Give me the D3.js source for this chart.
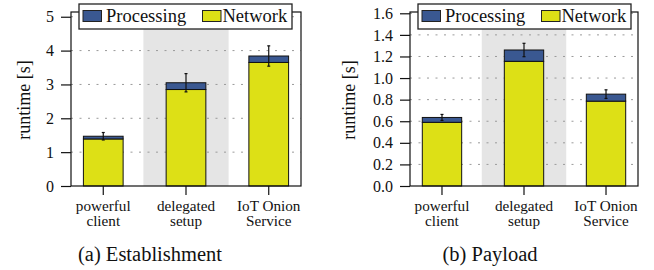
<!DOCTYPE html>
<html>
<head>
<meta charset="utf-8">
<script src="https://cdn.jsdelivr.net/npm/d3@7"></script>
<style>
  body { margin: 0; background: #fff; }
</style>
</head>
<body>
<svg id="chart" width="654" height="270"></svg>
<script>
'use strict';

// ─── Data ────────────────────────────────────────────────────────
const categories = [['powerful', 'client'], ['delegated', 'setup'], ['IoT Onion', 'Service']];
const seriesNames = ['Processing', 'Network'];

const estNetwork = [1.39, 2.85, 3.65];
const estProcessing = [0.08, 0.20, 0.19];
const estError = [0.11, 0.27, 0.30];
const estTicks = [0, 1, 2, 3, 4, 5];

const payNetwork = [0.59, 1.155, 0.786];
const payProcessing = [0.045, 0.105, 0.065];
const payError = [0.028, 0.062, 0.04];
const payTicks = [0, 0.2, 0.4, 0.6, 0.8, 1.0, 1.2, 1.4, 1.6];

const COLORS = { Processing: '#3a5891', Network: '#dde016' };
const SHADE = '#e5e5e5';
const FONT = "'Liberation Serif'";

const svg = d3.select('#chart');

// ─── One panel ───────────────────────────────────────────────────

function drawPanel(o) {
    const top = 12, bottom = 186;
    const keys = categories.map(c => c.join(' '));

    const x = d3.scalePoint()
        .domain(keys)
        .range([o.left, o.right])
        .padding(0.39);
    const step = x.step();
    const barW = step * 0.48;

    const y = d3.scaleLinear()
        .domain([0, o.yMax])
        .range([bottom, top]);

    const g = svg.append('g');

    // shaded middle column
    g.append('rect')
        .attr('x', x(keys[1]) - step * 1.03 / 2)
        .attr('y', top)
        .attr('width', step * 1.03)
        .attr('height', bottom - top)
        .attr('fill', SHADE);

    // dotted grid
    g.selectAll('line.grid')
        .data(o.ticks.filter(t => t > 0))
        .enter().append('line')
        .attr('class', 'grid')
        .attr('x1', o.left).attr('x2', o.right)
        .attr('y1', d => y(d)).attr('y2', d => y(d))
        .attr('stroke', '#9a9a9a')
        .attr('stroke-width', 1)
        .attr('stroke-dasharray', '2,6.5');

    // stacked bars
    const rows = keys.map((k, i) => ({
        k, net: o.network[i], proc: o.processing[i], err: o.error[i]
    }));

    g.selectAll('rect.net')
        .data(rows)
        .enter().append('rect')
        .attr('class', 'net')
        .attr('x', d => x(d.k) - barW / 2)
        .attr('y', d => y(d.net))
        .attr('width', barW)
        .attr('height', d => y(0) - y(d.net))
        .attr('fill', COLORS.Network)
        .attr('stroke', '#111').attr('stroke-width', 1);

    g.selectAll('rect.proc')
        .data(rows)
        .enter().append('rect')
        .attr('class', 'proc')
        .attr('x', d => x(d.k) - barW / 2)
        .attr('y', d => y(d.net + d.proc))
        .attr('width', barW)
        .attr('height', d => y(d.net) - y(d.net + d.proc))
        .attr('fill', COLORS.Processing)
        .attr('stroke', '#111').attr('stroke-width', 1);

    // error bars
    const eb = g.selectAll('g.err')
        .data(rows)
        .enter().append('g')
        .attr('class', 'err')
        .attr('stroke', '#111')
        .attr('stroke-width', 1.2);
    eb.append('line')
        .attr('x1', d => x(d.k)).attr('x2', d => x(d.k))
        .attr('y1', d => y(d.net + d.proc - d.err))
        .attr('y2', d => y(d.net + d.proc + d.err));
    eb.append('line')
        .attr('x1', d => x(d.k) - 1.5).attr('x2', d => x(d.k) + 1.5)
        .attr('y1', d => y(d.net + d.proc + d.err))
        .attr('y2', d => y(d.net + d.proc + d.err));
    eb.append('line')
        .attr('x1', d => x(d.k) - 1.5).attr('x2', d => x(d.k) + 1.5)
        .attr('y1', d => y(d.net + d.proc - d.err))
        .attr('y2', d => y(d.net + d.proc - d.err));

    // frame
    g.append('rect')
        .attr('x', o.left).attr('y', top)
        .attr('width', o.right - o.left).attr('height', bottom - top)
        .attr('fill', 'none')
        .attr('stroke', '#111').attr('stroke-width', 1.2);

    // y axis
    const yAxis = g.append('g')
        .attr('transform', `translate(${o.left},0)`)
        .call(d3.axisLeft(y).tickValues(o.ticks).tickFormat(d3.format(o.fmt))
            .tickSize(10).tickPadding(7));
    yAxis.attr('font-family', FONT);
    yAxis.select('.domain').remove();
    yAxis.selectAll('line').attr('stroke', '#111').attr('stroke-width', 1.2);
    yAxis.selectAll('text')
        .attr('font-family', FONT)
        .attr('font-size', '16px')
        .attr('fill', '#111');

    // x axis ticks
    g.selectAll('line.xtick')
        .data(keys)
        .enter().append('line')
        .attr('class', 'xtick')
        .attr('x1', d => x(d)).attr('x2', d => x(d))
        .attr('y1', bottom).attr('y2', bottom + 9)
        .attr('stroke', '#111').attr('stroke-width', 1.2);

    categories.forEach((lines, i) => {
        lines.forEach((ln, j) => {
            g.append('text')
                .attr('font-family', FONT)
                .attr('fill', '#111')
                .attr('text-anchor', 'middle')
                .attr('font-size', '15.2px')
                .attr('x', x(keys[i]))
                .attr('y', 211 + j * 15.3)
                .text(ln);
        });
    });

    // y label
    g.append('text')
        .attr('transform', `translate(${o.labelX},100) rotate(-90)`)
        .attr('font-family', FONT)
        .attr('fill', '#111')
        .attr('text-anchor', 'middle')
        .attr('font-size', '18px')
        .text('runtime [s]');

    // legend
    const lx = o.legendX, ly = 4;
    const lg = g.append('g');
    lg.append('rect')
        .attr('x', lx).attr('y', ly)
        .attr('width', 213).attr('height', 25)
        .attr('fill', '#fff')
        .attr('stroke', '#222').attr('stroke-width', 1.3);
    const offsets = [{ sw: 4, tx: 27 }, { sw: 123.5, tx: 143.5 }];
    seriesNames.forEach((name, i) => {
        lg.append('rect')
            .attr('x', lx + offsets[i].sw).attr('y', ly + 6.5)
            .attr('width', 18.5).attr('height', 11)
            .attr('fill', COLORS[name])
            .attr('stroke', '#222').attr('stroke-width', 1);
        lg.append('text')
            .attr('x', lx + offsets[i].tx).attr('y', ly + 17.5)
            .attr('font-family', FONT)
            .attr('fill', '#111')
            .attr('font-size', '18.5px')
            .text(name);
    });

    // caption
    g.append('text')
        .attr('x', o.captionX).attr('y', 261)
        .attr('font-family', FONT)
        .attr('fill', '#111')
        .attr('text-anchor', 'middle')
        .attr('font-size', '20.5px')
        .text(o.caption);
}

drawPanel({
    left: 71, right: 301, yMax: 5.14, ticks: estTicks, fmt: 'd',
    network: estNetwork, processing: estProcessing, error: estError,
    labelX: 30, legendX: 79, captionX: 150, caption: '(a) Establishment'
});

drawPanel({
    left: 410, right: 638, yMax: 1.612, ticks: payTicks, fmt: '.1f',
    network: payNetwork, processing: payProcessing, error: payError,
    labelX: 355, legendX: 418, captionX: 490, caption: '(b) Payload'
});
</script>
</body>
</html>
